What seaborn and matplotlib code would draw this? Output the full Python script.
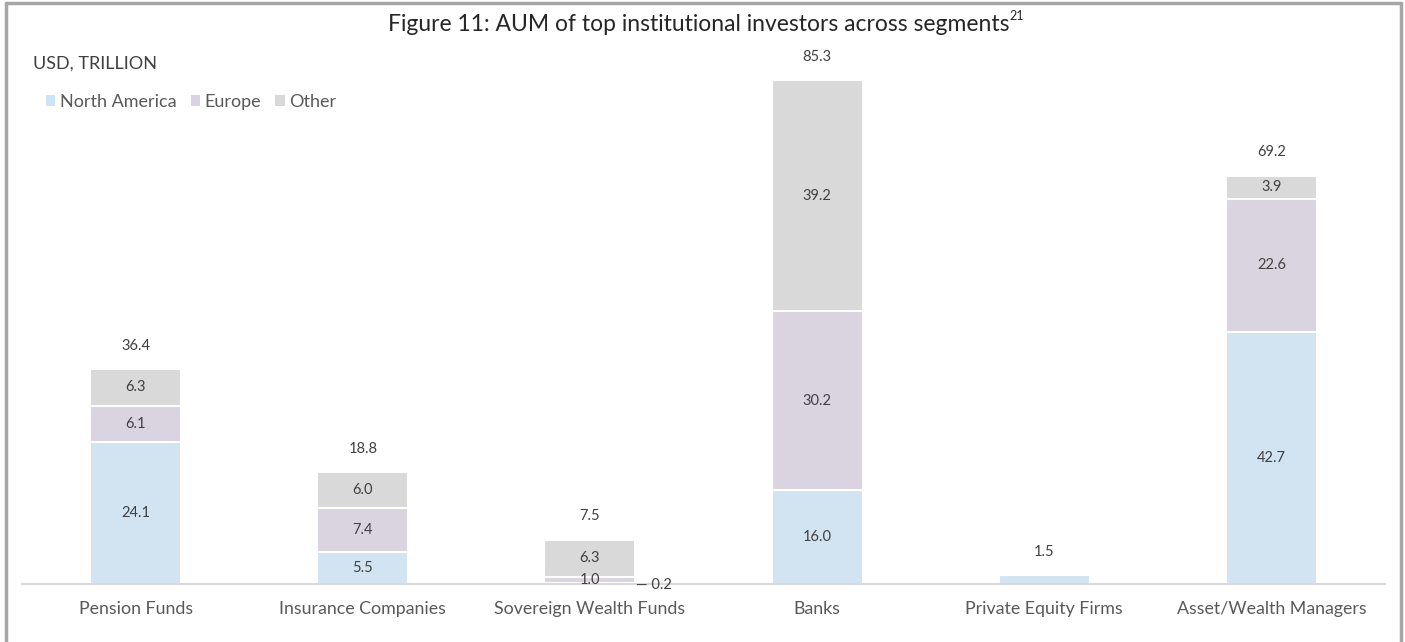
import matplotlib
matplotlib.use("Agg")
import matplotlib.pyplot as plt
from matplotlib.patches import Patch
from matplotlib.lines import Line2D
import seaborn as sns
import pandas as pd

# Data (USD trillion)
categories = [
    "Pension Funds",
    "Insurance Companies",
    "Sovereign Wealth Funds",
    "Banks",
    "Private Equity Firms",
    "Asset/Wealth Managers",
]
north_america = [24.1, 5.5, 0.2, 16.0, 1.5, 42.7]
europe = [6.1, 7.4, 1.0, 30.2, 0.0, 22.6]
other = [6.3, 6.0, 6.3, 39.2, 0.0, 3.9]
totals = [36.4, 18.8, 7.5, 85.3, 1.5, 69.2]

series_names = ["North America", "Europe", "Other"]
colors = ["#cde4f7", "#d9d2e2", "#d9d9d9"]
text_color = "#404040"

sns.set_style("white")
plt.rcParams["font.family"] = ["Lato", "DejaVu Sans"]

df = pd.DataFrame({
    "category": categories,
    "na": north_america,
    "eu": europe,
    "ot": other,
})
df["na_eu"] = df["na"] + df["eu"]
df["all"] = df["na_eu"] + df["ot"]

fig = plt.figure(figsize=(14.05, 6.42), dpi=100)
ax = fig.add_axes([22 / 1405, 58 / 642, 1363 / 1405, 544 / 642])

# stacked bars: draw cumulative heights from tallest to shortest
for col, c in zip(["all", "na_eu", "na"], colors[::-1]):
    sns.barplot(
        data=df, x="category", y=col, color=c, width=0.4,
        edgecolor="white", linewidth=1.5, ax=ax, zorder=2,
    )

ax.set_xlim(-0.5, 5.5)
ax.set_ylim(0, 544 / 5.9)
ax.set_xlabel("")
ax.set_ylabel("")
ax.set_yticks([])
sns.despine(ax=ax, left=True, top=True, right=True)
ax.spines["bottom"].set_color("#d9d9d9")
ax.spines["bottom"].set_linewidth(1.5)
ax.tick_params(axis="x", length=0, pad=12, labelsize=12.8, labelcolor="#595959")

# segment labels
for i in range(len(categories)):
    base = 0
    for seg in [north_america[i], europe[i], other[i]]:
        if seg >= 1.0 and not (i == 4):
            ax.text(i, base + seg / 2, f"{seg:.1f}", ha="center", va="center",
                    fontsize=10.5, color=text_color, zorder=3)
        base += seg
    ax.text(i, totals[i] + 4.0, f"{totals[i]:.1f}", ha="center", va="center",
            fontsize=10.5, color=text_color)

# small outside label for Sovereign Wealth Funds / North America
ax.text(2.205, north_america[2] / 2 - 0.2, "\u2014 0.2", ha="left", va="center",
        fontsize=10.5, color=text_color)

# title with superscript
title = fig.text(0.497, 0.962, "Figure 11: AUM of top institutional investors across segments",
                 ha="center", va="center", fontsize=16.5, color="#262626")
ax.annotate("21", xy=(1.0, 0.62), xycoords=title, fontsize=9,
            color="#262626", ha="left", va="bottom", annotation_clip=False)

fig.text(33 / 1405, 1 - 64 / 642, "USD, TRILLION", ha="left", va="center",
         fontsize=13, color=text_color)

handles = [Patch(facecolor=c, edgecolor="none") for c in colors]
fig.legend(handles, series_names, loc="center left",
           bbox_to_anchor=(30 / 1405, 1 - 102 / 642), ncol=3, frameon=False,
           fontsize=13, handlelength=0.5, handleheight=0.5,
           handletextpad=0.25, columnspacing=0.8, labelcolor="#595959")

# frame lines (left, top, right)
for xs, ys in [([0.004, 0.004], [0, 0.995]), ([0.004, 0.997], [0.995, 0.995]),
               ([0.997, 0.997], [0, 0.995])]:
    fig.add_artist(Line2D(xs, ys, transform=fig.transFigure,
                          color="#a6a6a6", linewidth=2.5))

plt.savefig("out.png", dpi=100)
